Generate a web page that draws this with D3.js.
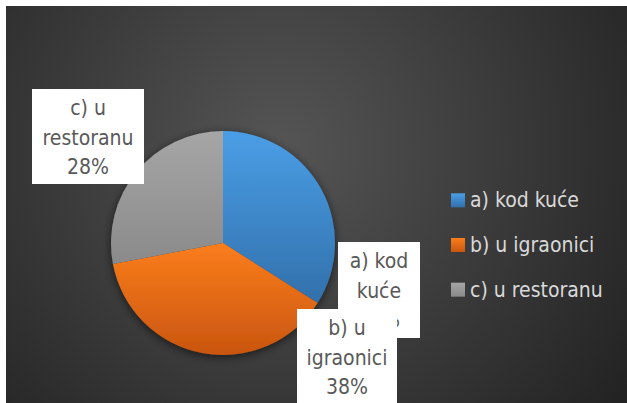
<!DOCTYPE html>
<html>
<head>
<meta charset="utf-8">
<script src="https://cdn.jsdelivr.net/npm/d3@7/dist/d3.min.js"></script>
<style>
  body { margin: 0; background: #fff; }
  text { font-family: "Liberation Sans Narrow", "DejaVu Sans Condensed", "Roboto", sans-serif; }
</style>
</head>
<body>
<div id="viz"></div>
<script>
// data
var categories = ['a) kod kuće', 'b) u igraonici', 'c) u restoranu'];
var values = [34, 38, 28];
var labelLines = [['a) kod', 'kuće', '34%'], ['b) u', 'igraonici', '38%'], ['c) u', 'restoranu', '28%']];
var colorsTop = ['#4a9ee6', '#fb7e1c', '#a6a6a6'];
var colorsBottom = ['#3270ab', '#c9550f', '#8a8a8a'];

var width = 627;
var height = 403;

var svg = d3.select('#viz')
    .append('svg')
    .attr('width', width)
    .attr('height', height);

var defs = svg.append('defs');

var bg = defs.append('radialGradient')
    .attr('id', 'bg')
    .attr('gradientUnits', 'userSpaceOnUse')
    .attr('cx', 280).attr('cy', 150).attr('r', 420);
bg.append('stop').attr('offset', '0%').attr('stop-color', '#555555');
bg.append('stop').attr('offset', '100%').attr('stop-color', '#232323');

// chart area
svg.append('rect')
    .attr('x', 6).attr('y', 6)
    .attr('width', width - 6).attr('height', height - 6)
    .attr('fill', 'url(#bg)');

var cx = 223, cy = 243, r = 112;

categories.forEach(function (c, i) {
    var gr = defs.append('linearGradient')
        .attr('id', 'sl' + i)
        .attr('x1', 0).attr('y1', 0).attr('x2', 0).attr('y2', 1);
    gr.append('stop').attr('offset', '0%').attr('stop-color', colorsTop[i]);
    gr.append('stop').attr('offset', '100%').attr('stop-color', colorsBottom[i]);
});

var shadow = defs.append('filter').attr('id', 'sh')
    .attr('x', '-20%').attr('y', '-20%').attr('width', '140%').attr('height', '140%');
shadow.append('feGaussianBlur').attr('in', 'SourceAlpha').attr('stdDeviation', 5).attr('result', 'b');
shadow.append('feOffset').attr('in', 'b').attr('dy', 2).attr('result', 'o');
shadow.append('feComponentTransfer').attr('in', 'o').attr('result', 'o2')
    .append('feFuncA').attr('type', 'linear').attr('slope', 0.6);
var merge = shadow.append('feMerge');
merge.append('feMergeNode').attr('in', 'o2');
merge.append('feMergeNode').attr('in', 'SourceGraphic');

var pie = d3.pie().sort(null).value(function (d) { return d; });
var arc = d3.arc().innerRadius(0).outerRadius(r);
var arcs = pie(values);

var g = svg.append('g')
    .attr('transform', 'translate(' + cx + ',' + cy + ')');

g.append('g').attr('filter', 'url(#sh)')
    .selectAll('path')
    .data(arcs)
    .enter()
    .append('path')
    .attr('d', arc)
    .attr('fill', function (d, i) { return 'url(#sl' + i + ')'; });

// data label boxes
var boxes = [
    { x: 338, y: 242, w: 82, h: 96 },
    { x: 297, y: 309, w: 100, h: 96 },
    { x: 32, y: 89, w: 112, h: 95 }
];
var lineH = 29.5;

// a first, then c, then b on top (b covers the end of a, as in the original)
[0, 2, 1].forEach(function (i) {
    var b = boxes[i];
    svg.append('rect')
        .attr('x', b.x).attr('y', b.y)
        .attr('width', b.w).attr('height', b.h)
        .attr('fill', '#ffffff');
    var t = svg.append('text')
        .attr('text-anchor', 'middle')
        .attr('fill', '#595959')
        .style('font-size', '21px');
    labelLines[i].forEach(function (line, k) {
        t.append('tspan')
            .attr('x', b.x + b.w / 2)
            .attr('y', b.y + 26 + k * lineH)
            .text(line);
    });
});

// legend
var legend = svg.append('g');
var ly = d3.scaleBand().domain(categories).range([178, 312]);
categories.forEach(function (c, i) {
    var y = ly(c) + ly.bandwidth() / 2;
    legend.append('rect')
        .attr('x', 451).attr('y', y - 7)
        .attr('width', 14).attr('height', 14)
        .attr('fill', 'url(#sl' + i + ')');
    legend.append('text')
        .attr('x', 470).attr('y', y + 7)
        .attr('fill', '#d9d9d9')
        .style('font-size', '21px')
        .text(c);
});
</script>
</body>
</html>
